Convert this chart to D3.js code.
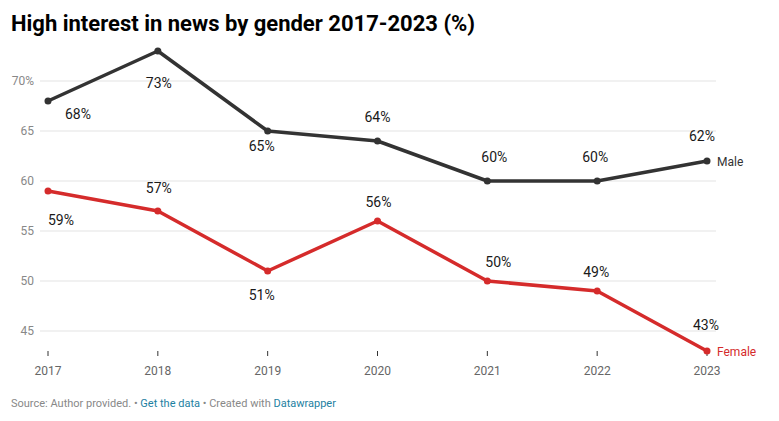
<!DOCTYPE html>
<html><head><meta charset="utf-8">
<script src="https://cdn.jsdelivr.net/npm/d3@7"></script>
<style>
body{margin:0;background:#fff;font-family:Roboto,"Noto Sans",sans-serif;}
</style></head><body>
<svg id="c" width="779" height="421"></svg>
<script>
const years = [2017, 2018, 2019, 2020, 2021, 2022, 2023];
const male = [68, 73, 65, 64, 60, 60, 62];
const female = [59, 57, 51, 56, 50, 49, 43];
const yTicks = [45, 50, 55, 60, 65, 70];

// label layout (pixel offsets of value-label centres from their points)
const maleLabelDx = [30, 1, -6, 0, 7, -2, -5];
const maleLabelDy = [13, 32, 15, -24, -24, -24, -25];
const femaleLabelDx = [13, 1, -6, 1, 11, -1, -1];
const femaleLabelDy = [29, -23, 24, -19, -19, -19, -26];

const svg = d3.select("#c");
const x = d3.scaleLinear().domain([2017, 2023]).range([48, 707]);
const y = d3.scaleLinear().domain([45, 70]).range([331, 81]);

svg.append("text").attr("x", 11).attr("y", 31).text("High interest in news by gender 2017-2023 (%)")
  .style("font-size", "22px").style("font-weight", 700).attr("fill", "#000");

const g = svg.append("g");
yTicks.forEach(t => {
  g.append("line").attr("x1", 40).attr("x2", 716).attr("y1", y(t)).attr("y2", y(t))
    .attr("stroke", "#e3e3e3").attr("stroke-width", 1);
  g.append("text").attr("x", 34).attr("y", y(t) + 4).attr("text-anchor", "end")
    .text(t === 70 ? "70%" : t).style("font-size", "12px").attr("fill", "#888");
});
years.forEach(yr => {
  g.append("line").attr("x1", x(yr)).attr("x2", x(yr)).attr("y1", 351).attr("y2", 356)
    .attr("stroke", "#333").attr("stroke-width", 1);
  g.append("text").attr("x", x(yr)).attr("y", 375).attr("text-anchor", "middle")
    .text(yr).style("font-size", "12px").attr("fill", "#666");
});

const line = d3.line().x((d, i) => x(years[i])).y(d => y(d));

function series(vals, color, dxs, dys, name) {
  svg.append("path").attr("d", line(vals)).attr("fill", "none").attr("stroke", color)
    .attr("stroke-width", 3.5).attr("stroke-linejoin", "round").attr("stroke-linecap", "round");
  vals.forEach((v, i) => {
    svg.append("circle").attr("cx", x(years[i])).attr("cy", y(v)).attr("r", 3.5).attr("fill", color);
    svg.append("text").attr("x", x(years[i]) + dxs[i]).attr("y", y(v) + dys[i] + 5)
      .attr("text-anchor", "middle").text(v + "%").style("font-size", "14px").attr("fill", "#1a1a1a");
  });
  svg.append("text").attr("x", x(years[years.length - 1]) + 10).attr("y", y(vals[vals.length - 1]) + 5)
    .text(name).style("font-size", "12px").attr("fill", color);
}
series(male, "#333333", maleLabelDx, maleLabelDy, "Male");
series(female, "#d52b2b", femaleLabelDx, femaleLabelDy, "Female");

const f = svg.append("text").attr("x", 11).attr("y", 407).style("font-size", "11px");
f.append("tspan").text("Source: Author provided. • ").attr("fill", "#888");
f.append("tspan").text("Get the data").attr("fill", "#1d81a2");
f.append("tspan").text(" • Created with ").attr("fill", "#888");
f.append("tspan").text("Datawrapper").attr("fill", "#1d81a2");
</script></body></html>
